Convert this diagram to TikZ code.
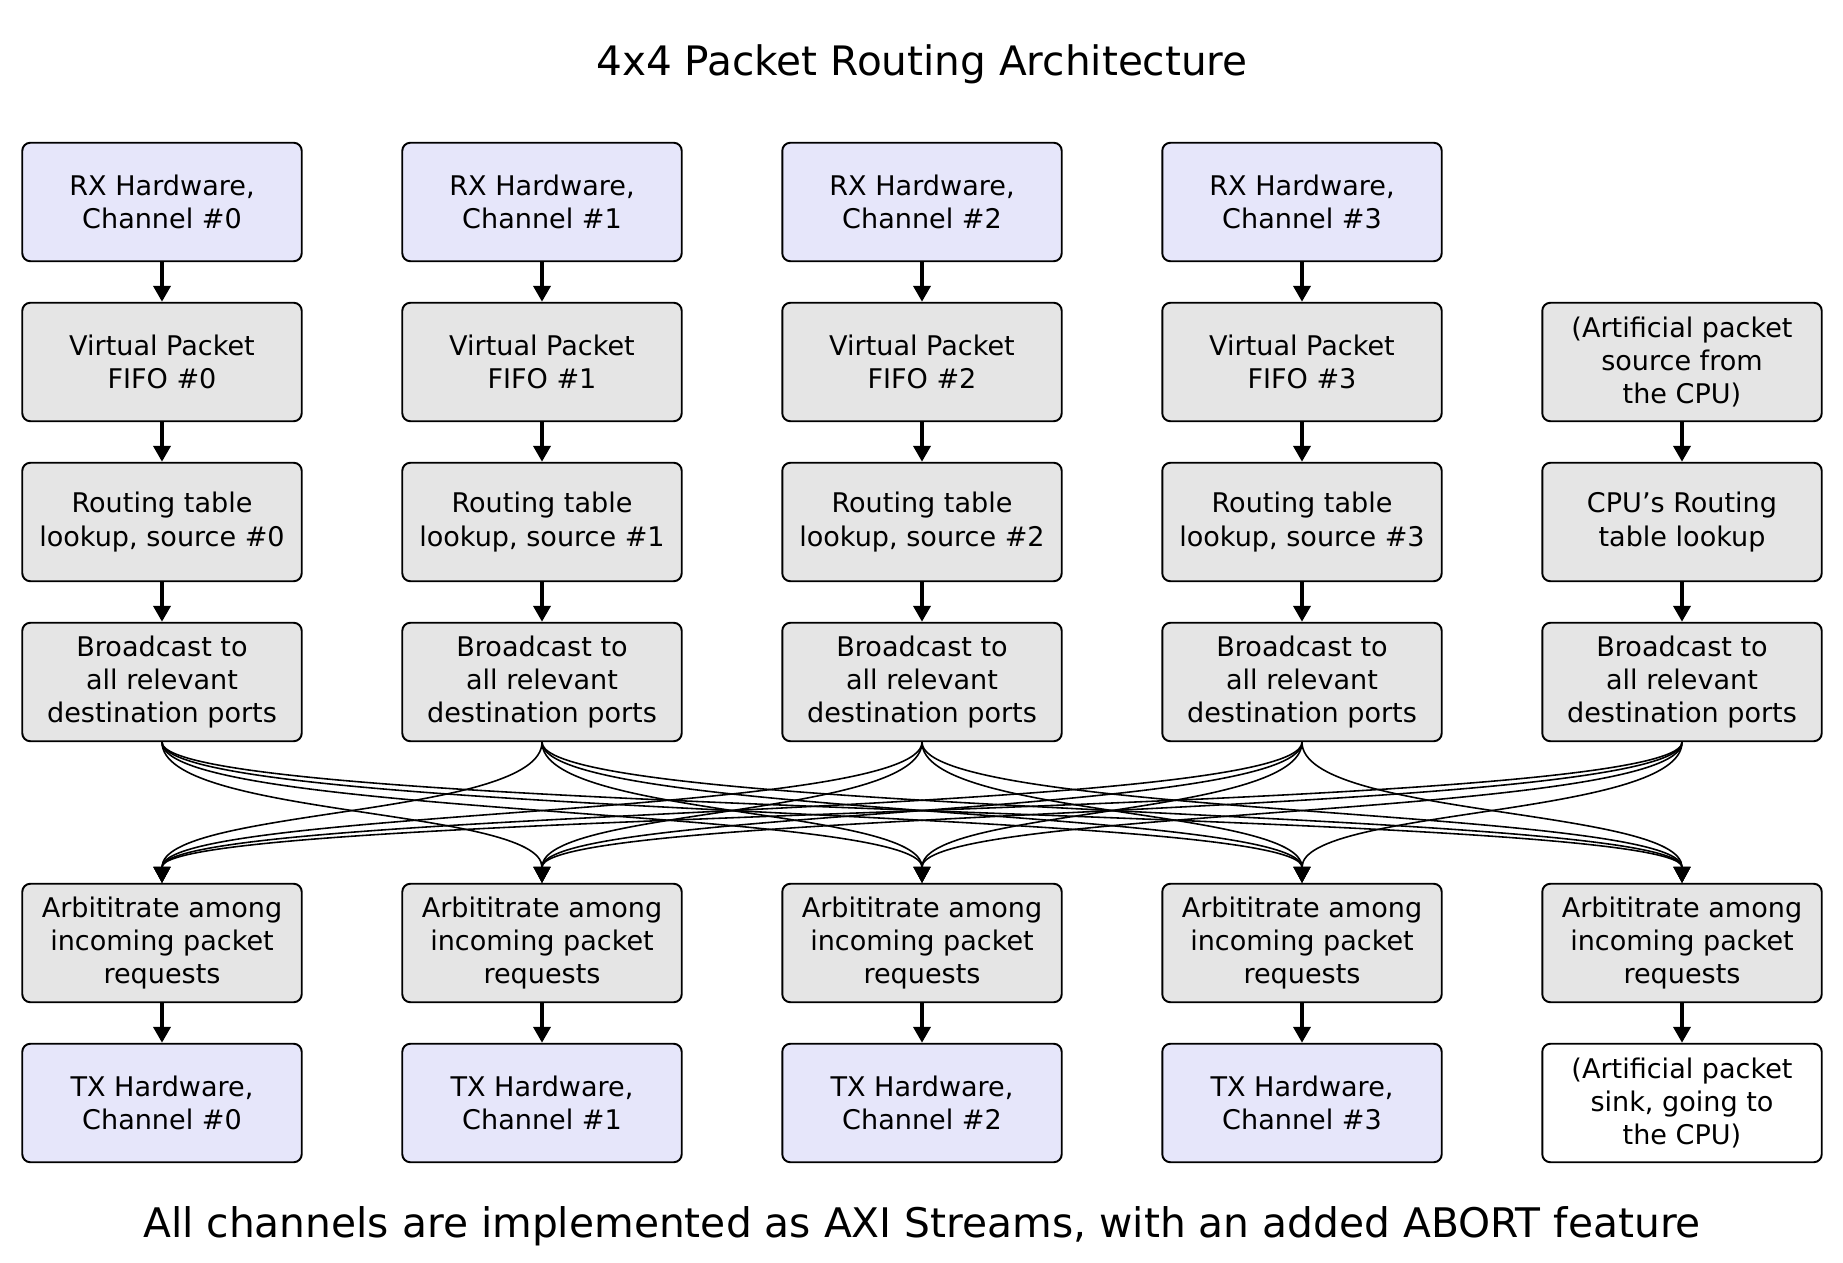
\documentclass[tikz,border=0pt]{standalone}
\usepackage{fontspec}
\setmainfont{DejaVu Sans}
\usetikzlibrary{arrows.meta}
\definecolor{hwfill}{HTML}{E6E6FA}
\definecolor{stagefill}{HTML}{E5E5E5}
\tikzset{>={Triangle[length=0.32cm,width=0.34cm]}}
\tikzset{
  box/.style={draw, rounded corners=0.16cm, line width=1.1pt, minimum width=5.59cm, minimum height=2.37cm, align=center, font=\fontsize{15.4}{19}\selectfont},
  hw/.style={box, fill=hwfill},
  stage/.style={box, fill=stagefill},
  feed/.style={->, line width=2.2pt},
  fan/.style={->, line width=0.9pt}
}

\begin{document}
\begin{tikzpicture}[x=0.02cm,y=-0.02cm]
  \useasboundingbox (0,0) rectangle (1843,1263);
  \node[font=\fontsize{23.1}{28}\selectfont] (title) at (922,64) {4x4 Packet Routing Architecture};
  \foreach \i in {0,...,3} {
    \node[hw] (rx\i) at (162+380*\i,202) {RX Hardware,\\Channel \#\i};
    \node[stage] (fifo\i) at (162+380*\i,362) {Virtual Packet\\FIFO \#\i};
    \node[stage] (lookup\i) at (162+380*\i,522) {Routing table\\lookup, source \#\i};
    \node[hw] (tx\i) at (162+380*\i,1103) {TX Hardware,\\Channel \#\i};
    \draw[feed] (rx\i) -- (fifo\i);
    \draw[feed] (fifo\i) -- (lookup\i);
  }
  \node[stage] (src4) at (1682,362) {(Artificial packet\\source from\\the CPU)};
  \node[stage] (lookup4) at (1682,522) {CPU's Routing\\table lookup};
  \node[box, fill=white] (tx4) at (1682,1103) {(Artificial packet\\sink, going to\\the CPU)};
  \draw[feed] (src4) -- (lookup4);
  \foreach \i in {0,...,4} {
    \node[stage] (bcast\i) at (162+380*\i,682) {Broadcast to\\all relevant\\destination ports};
    \node[stage] (arb\i) at (162+380*\i,943) {Arbititrate among\\incoming packet\\requests};
    \draw[feed] (lookup\i) -- (bcast\i);
    \draw[feed] (arb\i) -- (tx\i);
  }
  % every broadcast reaches every other arbiter
  \foreach \i in {0,...,4}
    \foreach \j in {0,...,4} {
      \ifnum\i=\j\else
        \draw[fan] (bcast\i.south) .. controls +(0,75) and +(0,-75) .. (arb\j.north);
      \fi
    }
  \node[font=\fontsize{23.2}{28}\selectfont] (note) at (922,1226) {All channels are implemented as AXI Streams, with an added ABORT feature};
\end{tikzpicture}
\end{document}
